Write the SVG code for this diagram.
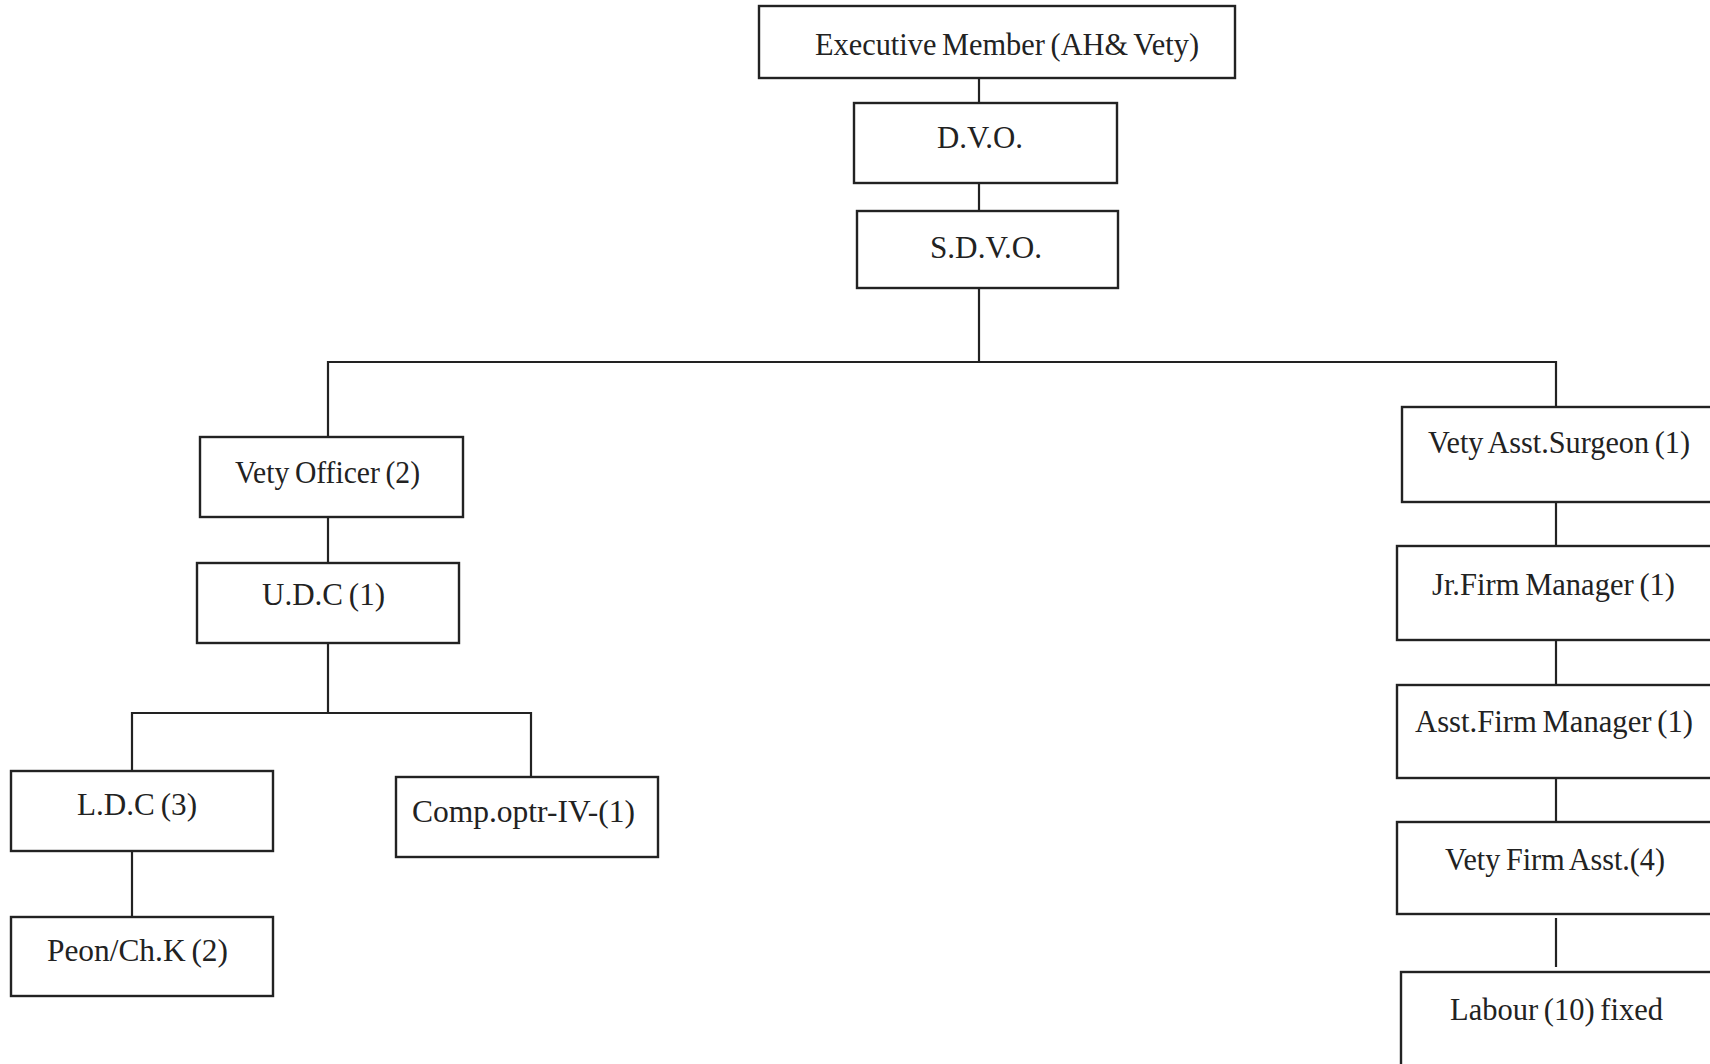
<svg xmlns="http://www.w3.org/2000/svg" width="1710" height="1064" viewBox="0 0 1710 1064">
  <style>
    .box { fill: #ffffff; stroke: #222222; stroke-width: 2.4; }
    .lbl { font-family: "Liberation Serif", "Times New Roman", serif; font-size: 32px; fill: #222222; word-spacing: -2px; }
    .wire { fill: none; stroke: #222222; stroke-width: 2.2; }
  </style>
  <rect width="1710" height="1064" fill="#ffffff"/>

  <!-- connectors -->
  <g id="connectors">
    <path class="wire" d="M979 78 V103"/>
    <path class="wire" d="M979 183 V211"/>
    <path class="wire" d="M979 288 V362"/>
    <path class="wire" d="M328 437 V362 H1556 V407"/>
    <path class="wire" d="M328 517 V563"/>
    <path class="wire" d="M328 643 V713"/>
    <path class="wire" d="M132 771 V713 H531 V777"/>
    <path class="wire" d="M132 851 V917"/>
    <path class="wire" d="M1556 502 V546"/>
    <path class="wire" d="M1556 640 V685"/>
    <path class="wire" d="M1556 778 V822"/>
    <path class="wire" d="M1556 918 V967"/>
  </g>

  <!-- top chain -->
  <g id="executive-member">
    <rect class="box" x="759" y="6" width="476" height="72"/>
    <text class="lbl" x="815" y="55" textLength="384" lengthAdjust="spacingAndGlyphs">Executive Member (AH&amp; Vety)</text>
  </g>
  <g id="dvo">
    <rect class="box" x="854" y="103" width="263" height="80"/>
    <text class="lbl" x="937" y="148" textLength="86" lengthAdjust="spacingAndGlyphs">D.V.O.</text>
  </g>
  <g id="sdvo">
    <rect class="box" x="857" y="211" width="261" height="77"/>
    <text class="lbl" x="930" y="258" textLength="112" lengthAdjust="spacingAndGlyphs">S.D.V.O.</text>
  </g>

  <!-- left branch -->
  <g id="vety-officer">
    <rect class="box" x="200" y="437" width="263" height="80"/>
    <text class="lbl" x="235" y="483" textLength="185" lengthAdjust="spacingAndGlyphs">Vety Officer (2)</text>
  </g>
  <g id="udc">
    <rect class="box" x="197" y="563" width="262" height="80"/>
    <text class="lbl" x="262" y="605" textLength="123" lengthAdjust="spacingAndGlyphs">U.D.C (1)</text>
  </g>
  <g id="ldc">
    <rect class="box" x="11" y="771" width="262" height="80"/>
    <text class="lbl" x="77" y="815" textLength="120" lengthAdjust="spacingAndGlyphs">L.D.C (3)</text>
  </g>
  <g id="comp-optr">
    <rect class="box" x="396" y="777" width="262" height="80"/>
    <text class="lbl" x="412" y="822" textLength="223" lengthAdjust="spacingAndGlyphs">Comp.optr-IV-(1)</text>
  </g>
  <g id="peon">
    <rect class="box" x="11" y="917" width="262" height="79"/>
    <text class="lbl" x="47" y="961" textLength="181" lengthAdjust="spacingAndGlyphs">Peon/Ch.K (2)</text>
  </g>

  <!-- right branch -->
  <g id="vety-asst-surgeon">
    <rect class="box" x="1402" y="407" width="318" height="95"/>
    <text class="lbl" x="1428" y="453" textLength="262" lengthAdjust="spacingAndGlyphs">Vety Asst.Surgeon (1)</text>
  </g>
  <g id="jr-firm-manager">
    <rect class="box" x="1397" y="546" width="323" height="94"/>
    <text class="lbl" x="1432" y="595" textLength="243" lengthAdjust="spacingAndGlyphs">Jr.Firm Manager (1)</text>
  </g>
  <g id="asst-firm-manager">
    <rect class="box" x="1397" y="685" width="323" height="93"/>
    <text class="lbl" x="1415" y="732" textLength="278" lengthAdjust="spacingAndGlyphs">Asst.Firm Manager (1)</text>
  </g>
  <g id="vety-firm-asst">
    <rect class="box" x="1397" y="822" width="323" height="92"/>
    <text class="lbl" x="1445" y="870" textLength="220" lengthAdjust="spacingAndGlyphs">Vety Firm Asst.(4)</text>
  </g>
  <g id="labour">
    <rect class="box" x="1401" y="972" width="319" height="110"/>
    <text class="lbl" x="1450" y="1020" textLength="213" lengthAdjust="spacingAndGlyphs">Labour (10) fixed</text>
  </g>
</svg>
